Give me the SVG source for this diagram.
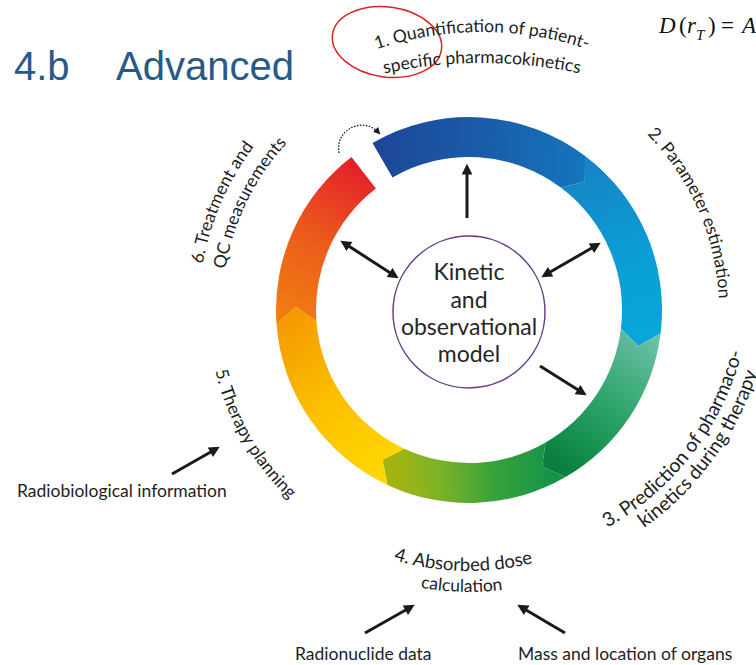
<svg xmlns="http://www.w3.org/2000/svg" xmlns:xlink="http://www.w3.org/1999/xlink" width="756" height="665" viewBox="0 0 756 665">
  <style>
    .lbl { font-family: Lato, "Open Sans", "Liberation Sans", sans-serif; font-size: 17.5px; fill: #1e1e1e; }
    .big { font-size: 19.5px; }
    .mid { font-size: 18.5px; }
    .core { font-family: Lato, "Open Sans", "Liberation Sans", sans-serif; font-size: 23px; fill: #262626; text-anchor: middle; }
    .title { font-family: "Liberation Sans", Arial, sans-serif; font-size: 40px; fill: #275a86; }
    .eq { font-family: "Liberation Serif", "Times New Roman", serif; font-size: 23px; fill: #111; }
    .arrow { stroke: #1a1a1a; stroke-width: 3; fill: none; marker-end: url(#head); }
    .arrow2 { stroke: #1a1a1a; stroke-width: 3; fill: none; marker-start: url(#head); marker-end: url(#head); }
  </style>
  <defs>
    <marker id="head" viewBox="0 0 10 10" refX="6" refY="5" markerWidth="4" markerHeight="3.6" orient="auto-start-reverse" markerUnits="strokeWidth">
      <path d="M0,0 L10,5 L0,10 Z" fill="#1a1a1a"/>
    </marker>
    <marker id="smallhead" viewBox="0 0 10 10" refX="5" refY="5" markerWidth="8" markerHeight="7" orient="auto" markerUnits="userSpaceOnUse">
      <path d="M0,0 L10,5 L0,10 Z" fill="#1a1a1a"/>
    </marker>

    <linearGradient id="g1" gradientUnits="userSpaceOnUse" x1="372" y1="160" x2="585" y2="170">
      <stop offset="0" stop-color="#1d4697"/>
      <stop offset="0.5" stop-color="#1a5ba8"/>
      <stop offset="1" stop-color="#1575bd"/>
    </linearGradient>
    <linearGradient id="g2" gradientUnits="userSpaceOnUse" x1="585" y1="170" x2="650" y2="335">
      <stop offset="0" stop-color="#1586c6"/>
      <stop offset="0.6" stop-color="#0a9fd6"/>
      <stop offset="1" stop-color="#08a6d8"/>
    </linearGradient>
    <linearGradient id="g3" gradientUnits="userSpaceOnUse" x1="650" y1="335" x2="555" y2="460">
      <stop offset="0" stop-color="#6bbfa9"/>
      <stop offset="0.5" stop-color="#2ea56a"/>
      <stop offset="0.9" stop-color="#0f8a48"/>
      <stop offset="1" stop-color="#0c7e40"/>
    </linearGradient>
    <linearGradient id="g4" gradientUnits="userSpaceOnUse" x1="555" y1="460" x2="395" y2="470">
      <stop offset="0" stop-color="#12924a"/>
      <stop offset="0.4" stop-color="#3aa33a"/>
      <stop offset="0.75" stop-color="#80b325"/>
      <stop offset="1" stop-color="#a3b412"/>
    </linearGradient>
    <linearGradient id="g5" gradientUnits="userSpaceOnUse" x1="395" y1="470" x2="285" y2="315">
      <stop offset="0" stop-color="#ffd800"/>
      <stop offset="0.5" stop-color="#fbbf00"/>
      <stop offset="1" stop-color="#f49800"/>
    </linearGradient>
    <linearGradient id="g6" gradientUnits="userSpaceOnUse" x1="285" y1="315" x2="362" y2="170">
      <stop offset="0" stop-color="#f07c12"/>
      <stop offset="0.5" stop-color="#ec5b1c"/>
      <stop offset="1" stop-color="#e4222a"/>
    </linearGradient>

    <!-- baselines for the curved step labels -->
    <path id="p1a" d="M269.9,109.2 A330,330 0 0 1 694.1,109.2"/>
    <path id="p1b" d="M287.6,106.1 A460,460 0 0 1 676.4,106.1"/>
    <path id="p2" d="M599.3,96.6 A250,250 0 0 1 714.1,359.4"/>
    <path id="p3a" d="M530,557.3 A282,282 0 0 0 750.7,269.7"/>
    <path id="p3b" d="M542.1,575 A302,302 0 0 0 770.3,260.9"/>
    <path id="p4a" d="M321.9,525.6 A261,261 0 0 0 606.2,532.1"/>
    <path id="p4b" d="M309.3,542.4 A282,282 0 0 0 616.3,550.4"/>
    <path id="p5" d="M209,287.2 A261,261 0 0 0 358.7,546.5"/>
    <path id="p6a" d="M204.4,363.8 A270,270 0 0 1 327.9,79.8"/>
    <path id="p6b" d="M225,348.6 A247,247 0 0 1 349.3,94"/>
  </defs>

  <rect width="756" height="665" fill="#ffffff"/>

  <!-- heading and formula -->
  <g id="heading">
    <text class="title" x="14" y="80">4.b</text>
    <text class="title" x="116" y="80">Advanced</text>
  </g>
  <g id="formula" class="eq">
    <text y="33"><tspan x="659" font-style="italic">D</tspan><tspan x="679">(</tspan><tspan x="687" font-style="italic">r</tspan><tspan x="696" y="40" font-size="15" font-style="italic">T</tspan><tspan x="708" y="33">)</tspan><tspan x="721">=</tspan><tspan x="742" font-style="italic">A</tspan></text>
  </g>

  <!-- cycle ring: six chevron-jointed arcs -->
  <g id="ring">
    <path fill="url(#g1)" d="M372.5,142.9 A193,193 0 0 1 585.1,155.9 L584.8,181.4 L561.1,187.8 A153,153 0 0 0 392.5,177.5 Z"/>
    <path fill="url(#g2)" d="M585.1,155.9 A193,193 0 0 1 660.6,333.5 L638.2,346 L620.9,328.7 A153,153 0 0 0 561.1,187.8 L584.8,181.4 Z"/>
    <path fill="url(#g3)" d="M660.6,333.5 A193,193 0 0 1 565.5,477.1 L542.1,466.8 L545.5,442.5 A153,153 0 0 0 620.9,328.7 L638.2,346 Z"/>
    <path fill="url(#g4)" d="M565.5,477.1 A193,193 0 0 1 387.4,484.9 L382.5,459.8 L404.3,448.7 A153,153 0 0 0 545.5,442.5 L542.1,466.8 Z"/>
    <path fill="url(#g5)" d="M387.4,484.9 A193,193 0 0 1 276.5,323.5 L296,307 L316.4,320.7 A153,153 0 0 0 404.3,448.7 L382.5,459.8 Z"/>
    <path fill="url(#g6)" d="M276.5,323.5 A193,193 0 0 1 351.5,156.9 L375.9,188.6 A153,153 0 0 0 316.4,320.7 L296,307 Z"/>
  </g>

  <!-- central model -->
  <g id="model">
    <circle cx="469" cy="312" r="76" fill="#ffffff" stroke="#6b3f8c" stroke-width="1.5"/>
    <text class="core" x="469" y="280">Kinetic</text>
    <text class="core" x="469" y="308">and</text>
    <text class="core" x="469" y="335">observational</text>
    <text class="core" x="469" y="362">model</text>
  </g>

  <!-- step labels -->
  <g id="step1">
    <ellipse cx="387" cy="42" rx="55" ry="35" transform="rotate(8 387 42)" fill="none" stroke="#e0201f" stroke-width="1.5"/>
    <text class="lbl" text-anchor="middle"><textPath href="#p1a" xlink:href="#p1a" startOffset="50%">1. Quantification of patient-</textPath></text>
    <text class="lbl" text-anchor="middle"><textPath href="#p1b" xlink:href="#p1b" startOffset="50%">specific pharmacokinetics</textPath></text>
  </g>
  <g id="step2">
    <text class="lbl" text-anchor="middle"><textPath href="#p2" xlink:href="#p2" startOffset="50%">2. Parameter estimation</textPath></text>
  </g>
  <g id="step3">
    <text class="lbl big" text-anchor="middle"><textPath href="#p3a" xlink:href="#p3a" startOffset="50%">3. Prediction of pharmaco-</textPath></text>
    <text class="lbl big" text-anchor="middle"><textPath href="#p3b" xlink:href="#p3b" startOffset="50%">kinetics during therapy</textPath></text>
  </g>
  <g id="step4">
    <text class="lbl mid" text-anchor="middle"><textPath href="#p4a" xlink:href="#p4a" startOffset="50%">4. Absorbed dose</textPath></text>
    <text class="lbl" text-anchor="middle"><textPath href="#p4b" xlink:href="#p4b" startOffset="50%">calculation</textPath></text>
  </g>
  <g id="step5">
    <text class="lbl" text-anchor="middle"><textPath href="#p5" xlink:href="#p5" startOffset="50%">5. Therapy planning</textPath></text>
  </g>
  <g id="step6">
    <text class="lbl" text-anchor="middle"><textPath href="#p6a" xlink:href="#p6a" startOffset="50%">6. Treatment and</textPath></text>
    <text class="lbl" text-anchor="middle"><textPath href="#p6b" xlink:href="#p6b" startOffset="50%">QC measurements</textPath></text>
  </g>

  <!-- external inputs -->
  <g id="radiobiology">
    <text class="lbl" x="17" y="497">Radiobiological information</text>
  </g>
  <g id="radionuclide">
    <text class="lbl" x="295" y="660">Radionuclide data</text>
  </g>
  <g id="anatomy">
    <text class="lbl" x="518" y="660">Mass and location of organs</text>
  </g>

  <!-- connectors -->
  <g id="connectors">
    <line class="arrow" x1="467" y1="218" x2="467" y2="168"/>
    <line class="arrow2" x1="344" y1="243" x2="395" y2="276"/>
    <line class="arrow2" x1="545" y1="275" x2="597" y2="245"/>
    <line class="arrow" x1="540" y1="366" x2="583" y2="393"/>
    <line class="arrow" x1="172" y1="474" x2="216" y2="449"/>
    <line class="arrow" x1="365" y1="633" x2="411" y2="607"/>
    <line class="arrow" x1="565" y1="633" x2="521" y2="607"/>
    <path d="M339,153 C335,128 364,117 378,132" fill="none" stroke="#1a1a1a" stroke-width="1.3" stroke-dasharray="1.5 1.5" marker-end="url(#smallhead)"/>
  </g>
</svg>
